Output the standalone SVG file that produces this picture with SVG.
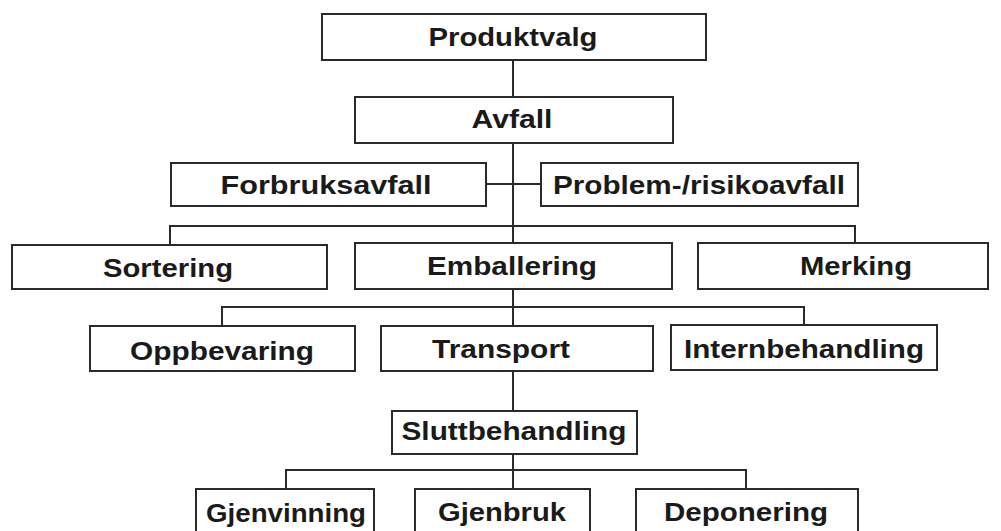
<svg xmlns="http://www.w3.org/2000/svg" width="1001" height="531" viewBox="0 0 1001 531">
<style>
.box{fill:#fff;stroke:#2a2a2a;stroke-width:2}
.ln{fill:none;stroke:#2a2a2a;stroke-width:2}
text{font-family:"Liberation Sans",Arial,sans-serif;font-weight:bold;font-size:25px;fill:#1a1a1a;text-anchor:middle}
</style>
<rect width="1001" height="531" fill="#fff"/>
<g id="connectors">
<path class="ln" d="M513 60V97M513 143V243M486 184H541M170 245V226H855V243M513 289V326M222 326V307H804V325M513 371V411M513 454V489M286 489V470H746V489"/>
</g>
<g id="n-produktvalg"><rect class="box" x="322" y="14" width="384" height="46"/><text x="513" y="46" textLength="169" lengthAdjust="spacingAndGlyphs">Produktvalg</text></g>
<g id="n-avfall"><rect class="box" x="355" y="97" width="318" height="46"/><text x="512" y="128" textLength="81" lengthAdjust="spacingAndGlyphs">Avfall</text></g>
<g id="n-forbruksavfall"><rect class="box" x="171" y="163" width="315" height="43"/><text x="326" y="194" textLength="211" lengthAdjust="spacingAndGlyphs">Forbruksavfall</text></g>
<g id="n-problem"><rect class="box" x="541" y="163" width="317" height="43"/><text x="699" y="194" textLength="292" lengthAdjust="spacingAndGlyphs">Problem-/risikoavfall</text></g>
<g id="n-sortering"><rect class="box" x="12" y="245" width="315" height="44"/><text x="168" y="277" textLength="130" lengthAdjust="spacingAndGlyphs">Sortering</text></g>
<g id="n-emballering"><rect class="box" x="355" y="243" width="317" height="46"/><text x="512" y="275" textLength="170" lengthAdjust="spacingAndGlyphs">Emballering</text></g>
<g id="n-merking"><rect class="box" x="698" y="243" width="290" height="46"/><text x="856" y="275" textLength="112" lengthAdjust="spacingAndGlyphs">Merking</text></g>
<g id="n-oppbevaring"><rect class="box" x="90" y="326" width="265" height="45"/><text x="222" y="360" textLength="184" lengthAdjust="spacingAndGlyphs">Oppbevaring</text></g>
<g id="n-transport"><rect class="box" x="381" y="326" width="272" height="45"/><text x="501" y="358" textLength="138" lengthAdjust="spacingAndGlyphs">Transport</text></g>
<g id="n-internbehandling"><rect class="box" x="671" y="325" width="266" height="45"/><text x="804" y="358" textLength="240" lengthAdjust="spacingAndGlyphs">Internbehandling</text></g>
<g id="n-sluttbehandling"><rect class="box" x="392" y="411" width="245" height="43"/><text x="514" y="440" textLength="225" lengthAdjust="spacingAndGlyphs">Sluttbehandling</text></g>
<g id="n-gjenvinning"><rect class="box" x="196" y="489" width="178" height="52"/><text x="286" y="522" textLength="160" lengthAdjust="spacingAndGlyphs">Gjenvinning</text></g>
<g id="n-gjenbruk"><rect class="box" x="415" y="489" width="175" height="52"/><text x="502" y="521" textLength="128" lengthAdjust="spacingAndGlyphs">Gjenbruk</text></g>
<g id="n-deponering"><rect class="box" x="636" y="489" width="222" height="52"/><text x="746" y="521" textLength="164" lengthAdjust="spacingAndGlyphs">Deponering</text></g>
</svg>
